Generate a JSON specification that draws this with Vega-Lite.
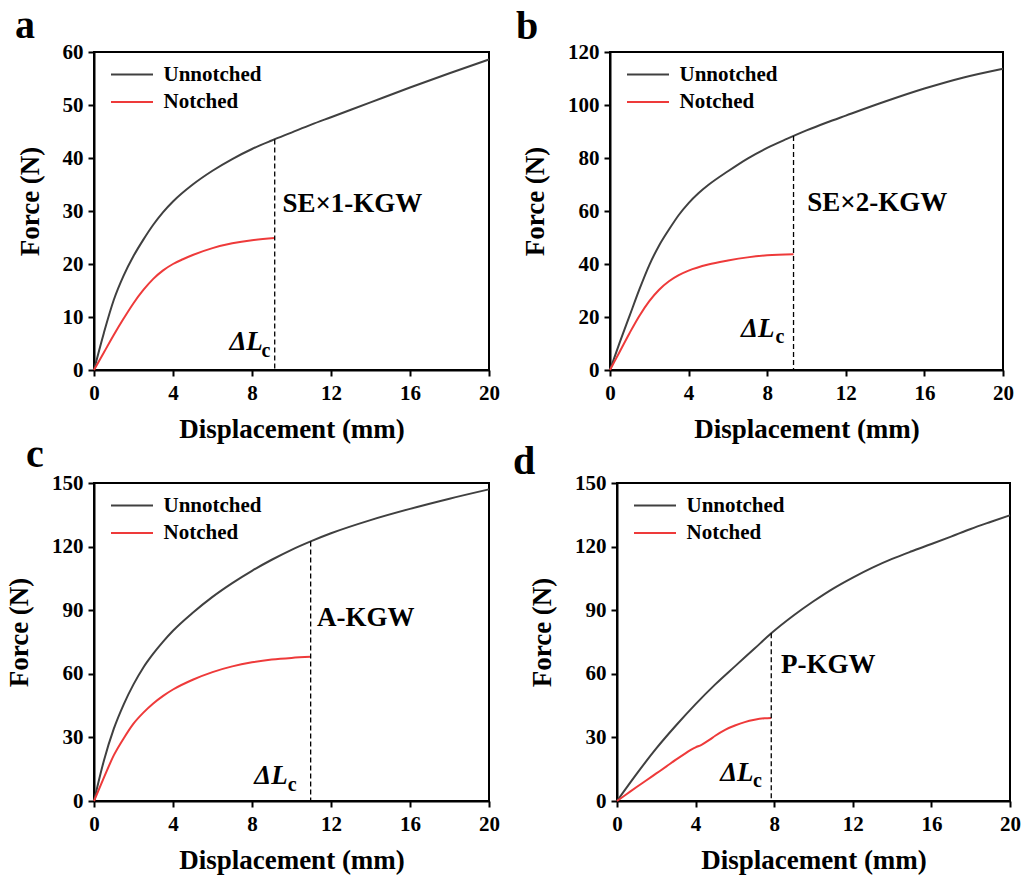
{
  "$schema": "https://vega.github.io/schema/vega-lite/v6.json",
  "background": "white",
  "padding": {"left": 4, "top": 4, "right": 5, "bottom": 5},
  "datasets": {
    "curves": [
      {"p":"a","s":"Unnotched","x":0,"y":0},{"p":"a","s":"Unnotched","x":0.5,"y":7},{"p":"a","s":"Unnotched","x":1,"y":13.2},{"p":"a","s":"Unnotched","x":1.5,"y":17.8},{"p":"a","s":"Unnotched","x":2,"y":21.5},{"p":"a","s":"Unnotched","x":2.5,"y":24.6},{"p":"a","s":"Unnotched","x":3,"y":27.4},{"p":"a","s":"Unnotched","x":3.5,"y":29.8},{"p":"a","s":"Unnotched","x":4,"y":31.8},{"p":"a","s":"Unnotched","x":5,"y":35},{"p":"a","s":"Unnotched","x":6,"y":37.6},{"p":"a","s":"Unnotched","x":7,"y":39.8},{"p":"a","s":"Unnotched","x":8,"y":41.7},{"p":"a","s":"Unnotched","x":9,"y":43.3},{"p":"a","s":"Unnotched","x":10,"y":44.8},{"p":"a","s":"Unnotched","x":11,"y":46.3},{"p":"a","s":"Unnotched","x":12,"y":47.7},{"p":"a","s":"Unnotched","x":14,"y":50.5},{"p":"a","s":"Unnotched","x":16,"y":53.3},{"p":"a","s":"Unnotched","x":18,"y":56},{"p":"a","s":"Unnotched","x":20,"y":58.6},
      {"p":"a","s":"Notched","x":0,"y":0},{"p":"a","s":"Notched","x":0.5,"y":3.3},{"p":"a","s":"Notched","x":1,"y":6.6},{"p":"a","s":"Notched","x":1.5,"y":9.7},{"p":"a","s":"Notched","x":2,"y":12.6},{"p":"a","s":"Notched","x":2.5,"y":15.1},{"p":"a","s":"Notched","x":3,"y":17.2},{"p":"a","s":"Notched","x":3.5,"y":18.8},{"p":"a","s":"Notched","x":4,"y":20},{"p":"a","s":"Notched","x":4.5,"y":20.9},{"p":"a","s":"Notched","x":5,"y":21.7},{"p":"a","s":"Notched","x":6,"y":23},{"p":"a","s":"Notched","x":7,"y":23.9},{"p":"a","s":"Notched","x":8,"y":24.5},{"p":"a","s":"Notched","x":9.15,"y":24.9},
      {"p":"b","s":"Unnotched","x":0,"y":0},{"p":"b","s":"Unnotched","x":0.5,"y":10.5},{"p":"b","s":"Unnotched","x":1,"y":20.5},{"p":"b","s":"Unnotched","x":1.5,"y":30.5},{"p":"b","s":"Unnotched","x":2,"y":39.6},{"p":"b","s":"Unnotched","x":2.5,"y":47},{"p":"b","s":"Unnotched","x":3,"y":53},{"p":"b","s":"Unnotched","x":3.5,"y":58.5},{"p":"b","s":"Unnotched","x":4,"y":63},{"p":"b","s":"Unnotched","x":4.5,"y":66.7},{"p":"b","s":"Unnotched","x":5,"y":69.8},{"p":"b","s":"Unnotched","x":6,"y":75},{"p":"b","s":"Unnotched","x":7,"y":79.8},{"p":"b","s":"Unnotched","x":8,"y":83.8},{"p":"b","s":"Unnotched","x":9,"y":87.2},{"p":"b","s":"Unnotched","x":10,"y":90.4},{"p":"b","s":"Unnotched","x":11,"y":93.3},{"p":"b","s":"Unnotched","x":12,"y":96},{"p":"b","s":"Unnotched","x":14,"y":101.3},{"p":"b","s":"Unnotched","x":16,"y":106.2},{"p":"b","s":"Unnotched","x":18,"y":110.4},{"p":"b","s":"Unnotched","x":20,"y":113.7},
      {"p":"b","s":"Notched","x":0,"y":0},{"p":"b","s":"Notched","x":0.5,"y":7},{"p":"b","s":"Notched","x":1,"y":14},{"p":"b","s":"Notched","x":1.5,"y":20.5},{"p":"b","s":"Notched","x":2,"y":26},{"p":"b","s":"Notched","x":2.5,"y":30.3},{"p":"b","s":"Notched","x":3,"y":33.5},{"p":"b","s":"Notched","x":3.5,"y":35.8},{"p":"b","s":"Notched","x":4,"y":37.5},{"p":"b","s":"Notched","x":5,"y":39.8},{"p":"b","s":"Notched","x":6,"y":41.3},{"p":"b","s":"Notched","x":7,"y":42.5},{"p":"b","s":"Notched","x":8,"y":43.3},{"p":"b","s":"Notched","x":9.34,"y":43.7},
      {"p":"c","s":"Unnotched","x":0,"y":0},{"p":"c","s":"Unnotched","x":0.5,"y":19},{"p":"c","s":"Unnotched","x":1,"y":34},{"p":"c","s":"Unnotched","x":1.5,"y":45.5},{"p":"c","s":"Unnotched","x":2,"y":55},{"p":"c","s":"Unnotched","x":2.5,"y":63},{"p":"c","s":"Unnotched","x":3,"y":69.5},{"p":"c","s":"Unnotched","x":3.5,"y":75.2},{"p":"c","s":"Unnotched","x":4,"y":80.3},{"p":"c","s":"Unnotched","x":5,"y":88.8},{"p":"c","s":"Unnotched","x":6,"y":96.3},{"p":"c","s":"Unnotched","x":7,"y":102.8},{"p":"c","s":"Unnotched","x":8,"y":108.6},{"p":"c","s":"Unnotched","x":9,"y":113.8},{"p":"c","s":"Unnotched","x":10,"y":118.5},{"p":"c","s":"Unnotched","x":11,"y":122.6},{"p":"c","s":"Unnotched","x":12,"y":126.3},{"p":"c","s":"Unnotched","x":14,"y":132.5},{"p":"c","s":"Unnotched","x":16,"y":137.8},{"p":"c","s":"Unnotched","x":18,"y":142.6},{"p":"c","s":"Unnotched","x":20,"y":147},
      {"p":"c","s":"Notched","x":0,"y":0},{"p":"c","s":"Notched","x":0.5,"y":11},{"p":"c","s":"Notched","x":1,"y":21.5},{"p":"c","s":"Notched","x":1.5,"y":29.5},{"p":"c","s":"Notched","x":2,"y":36.5},{"p":"c","s":"Notched","x":2.5,"y":41.7},{"p":"c","s":"Notched","x":3,"y":46},{"p":"c","s":"Notched","x":3.5,"y":49.6},{"p":"c","s":"Notched","x":4,"y":52.6},{"p":"c","s":"Notched","x":5,"y":57.2},{"p":"c","s":"Notched","x":6,"y":60.8},{"p":"c","s":"Notched","x":7,"y":63.5},{"p":"c","s":"Notched","x":8,"y":65.4},{"p":"c","s":"Notched","x":9,"y":66.7},{"p":"c","s":"Notched","x":10,"y":67.5},{"p":"c","s":"Notched","x":10.97,"y":68},
      {"p":"d","s":"Unnotched","x":0,"y":0},{"p":"d","s":"Unnotched","x":1,"y":12.8},{"p":"d","s":"Unnotched","x":2,"y":24.8},{"p":"d","s":"Unnotched","x":3,"y":35.6},{"p":"d","s":"Unnotched","x":4,"y":45.7},{"p":"d","s":"Unnotched","x":5,"y":55},{"p":"d","s":"Unnotched","x":6,"y":63.5},{"p":"d","s":"Unnotched","x":7,"y":71.9},{"p":"d","s":"Unnotched","x":7.85,"y":79.1},{"p":"d","s":"Unnotched","x":9,"y":87.6},{"p":"d","s":"Unnotched","x":10,"y":94.2},{"p":"d","s":"Unnotched","x":11,"y":100.2},{"p":"d","s":"Unnotched","x":12,"y":105.4},{"p":"d","s":"Unnotched","x":13,"y":110.1},{"p":"d","s":"Unnotched","x":14,"y":114.2},{"p":"d","s":"Unnotched","x":15,"y":117.8},{"p":"d","s":"Unnotched","x":16,"y":121.2},{"p":"d","s":"Unnotched","x":17,"y":124.7},{"p":"d","s":"Unnotched","x":18,"y":128.3},{"p":"d","s":"Unnotched","x":19,"y":131.6},{"p":"d","s":"Unnotched","x":20,"y":134.8},
      {"p":"d","s":"Notched","x":0,"y":0},{"p":"d","s":"Notched","x":0.5,"y":3.3},{"p":"d","s":"Notched","x":1,"y":6.6},{"p":"d","s":"Notched","x":1.5,"y":9.8},{"p":"d","s":"Notched","x":2,"y":13},{"p":"d","s":"Notched","x":2.5,"y":16.2},{"p":"d","s":"Notched","x":3,"y":19.5},{"p":"d","s":"Notched","x":3.5,"y":22.6},{"p":"d","s":"Notched","x":3.8,"y":24.4},{"p":"d","s":"Notched","x":4,"y":25.3},{"p":"d","s":"Notched","x":4.3,"y":26.5},{"p":"d","s":"Notched","x":4.7,"y":28.8},{"p":"d","s":"Notched","x":5,"y":30.8},{"p":"d","s":"Notched","x":5.5,"y":33.6},{"p":"d","s":"Notched","x":6,"y":35.6},{"p":"d","s":"Notched","x":6.5,"y":37.2},{"p":"d","s":"Notched","x":7,"y":38.3},{"p":"d","s":"Notched","x":7.5,"y":39},{"p":"d","s":"Notched","x":7.85,"y":39.2}
    ],
    "notes": [
      {"p":"a","xd":9.15,"y0":0,"ytop":43.5,"lbl":"SE×1-KGW","lx":9.54,"ly":31.4,"dl":"ΔL","dlx":8.55,"dly":3.77,"sub":"c","cx":8.93,"cy":2.52},
      {"p":"b","xd":9.34,"y0":0,"ytop":88.3,"lbl":"SE×2-KGW","lx":10.04,"ly":63.2,"dl":"ΔL","dlx":8.37,"dly":12.3,"sub":"c","cx":8.88,"cy":10.2},
      {"p":"c","xd":10.97,"y0":0,"ytop":122.4,"lbl":"A-KGW","lx":11.29,"ly":86.5,"dl":"ΔL","dlx":9.81,"dly":7.9,"sub":"c","cx":10.26,"cy":4.7},
      {"p":"d","xd":7.85,"y0":0,"ytop":79.1,"lbl":"P-KGW","lx":8.35,"ly":64.3,"dl":"ΔL","dlx":6.95,"dly":9.5,"sub":"c","cx":7.37,"cy":6.7}
    ]
  },
  "spacing": -10,
  "resolve": {"scale": {"color": "independent"}},
  "vconcat": [
    {
      "hconcat": [
        {
          "width": 395, "height": 318,
          "title": {"text": "a", "anchor": "start", "frame": "group", "offset": 0, "dx": -79, "dy": 36.5, "baseline": "alphabetic"},
          "layer": [
            {"data": {"name": "curves"}, "transform": [{"filter": "datum.p === 'a'"}],
             "mark": {"type": "line", "strokeWidth": 2, "interpolate": "monotone"},
             "encoding": {
               "x": {"field": "x", "type": "quantitative", "scale": {"domain": [0, 20], "nice": false},
                     "axis": {"title": "Displacement (mm)", "values": [0,2,4,6,8,10,12,14,16,18,20], "labelExpr": "datum.value % 4 === 0 ? datum.label : ''",
                              "tickDash": {"condition": {"test": "datum.value % 4 !== 0", "value": [4, 20]}, "value": [10, 0]}}},
               "y": {"field": "y", "type": "quantitative", "scale": {"domain": [0, 60], "nice": false},
                     "axis": {"title": "Force (N)", "values": [0,5,10,15,20,25,30,35,40,45,50,55,60], "labelExpr": "datum.value % 10 === 0 ? datum.label : ''",
                              "tickDash": {"condition": {"test": "datum.value % 10 !== 0", "value": [4, 20]}, "value": [10, 0]}}},
               "color": {"field": "s", "type": "nominal", "scale": {"domain": ["Unnotched", "Notched"], "range": ["#404040", "#ee3a3a"]},
                         "legend": {"orient": "none", "legendX": 17, "legendY": 12, "title": null}}
             }},
            {"data": {"name": "notes"}, "transform": [{"filter": "datum.p === 'a'"}],
             "mark": {"type": "rule", "color": "black", "strokeWidth": 1.3, "strokeDash": [5, 3]},
             "encoding": {"x": {"field": "xd", "type": "quantitative"}, "y": {"field": "ytop", "type": "quantitative"}, "y2": {"field": "y0"}}},
            {"data": {"name": "notes"}, "transform": [{"filter": "datum.p === 'a'"}],
             "mark": {"type": "text", "align": "left", "baseline": "middle", "font": "Liberation Serif", "fontWeight": "bold", "fontSize": 27, "color": "black"},
             "encoding": {"x": {"field": "lx", "type": "quantitative"}, "y": {"field": "ly", "type": "quantitative"}, "text": {"field": "lbl"}}},
            {"data": {"name": "notes"}, "transform": [{"filter": "datum.p === 'a'"}],
             "mark": {"type": "text", "align": "right", "baseline": "alphabetic", "font": "Liberation Serif", "fontWeight": "bold", "fontStyle": "italic", "fontSize": 27, "color": "black"},
             "encoding": {"x": {"field": "dlx", "type": "quantitative"}, "y": {"field": "dly", "type": "quantitative"}, "text": {"field": "dl"}}},
            {"data": {"name": "notes"}, "transform": [{"filter": "datum.p === 'a'"}],
             "mark": {"type": "text", "align": "right", "baseline": "alphabetic", "font": "Liberation Serif", "fontWeight": "bold", "fontSize": 20, "color": "black"},
             "encoding": {"x": {"field": "cx", "type": "quantitative"}, "y": {"field": "cy", "type": "quantitative"}, "text": {"field": "sub"}}}
          ]
        },
        {
          "width": 393, "height": 318,
          "title": {"text": "b", "anchor": "start", "frame": "group", "offset": 0, "dx": -94, "dy": 37.5, "baseline": "alphabetic"},
          "layer": [
            {"data": {"name": "curves"}, "transform": [{"filter": "datum.p === 'b'"}],
             "mark": {"type": "line", "strokeWidth": 2, "interpolate": "monotone"},
             "encoding": {
               "x": {"field": "x", "type": "quantitative", "scale": {"domain": [0, 20], "nice": false},
                     "axis": {"title": "Displacement (mm)", "values": [0,2,4,6,8,10,12,14,16,18,20], "labelExpr": "datum.value % 4 === 0 ? datum.label : ''",
                              "tickDash": {"condition": {"test": "datum.value % 4 !== 0", "value": [4, 20]}, "value": [10, 0]}}},
               "y": {"field": "y", "type": "quantitative", "scale": {"domain": [0, 120], "nice": false},
                     "axis": {"title": "Force (N)", "values": [0,10,20,30,40,50,60,70,80,90,100,110,120], "labelExpr": "datum.value % 20 === 0 ? datum.label : ''",
                              "tickDash": {"condition": {"test": "datum.value % 20 !== 0", "value": [4, 20]}, "value": [10, 0]}}},
               "color": {"field": "s", "type": "nominal", "scale": {"domain": ["Unnotched", "Notched"], "range": ["#404040", "#ee3a3a"]},
                         "legend": {"orient": "none", "legendX": 17, "legendY": 12, "title": null}}
             }},
            {"data": {"name": "notes"}, "transform": [{"filter": "datum.p === 'b'"}],
             "mark": {"type": "rule", "color": "black", "strokeWidth": 1.3, "strokeDash": [5, 3]},
             "encoding": {"x": {"field": "xd", "type": "quantitative"}, "y": {"field": "ytop", "type": "quantitative"}, "y2": {"field": "y0"}}},
            {"data": {"name": "notes"}, "transform": [{"filter": "datum.p === 'b'"}],
             "mark": {"type": "text", "align": "left", "baseline": "middle", "font": "Liberation Serif", "fontWeight": "bold", "fontSize": 27, "color": "black"},
             "encoding": {"x": {"field": "lx", "type": "quantitative"}, "y": {"field": "ly", "type": "quantitative"}, "text": {"field": "lbl"}}},
            {"data": {"name": "notes"}, "transform": [{"filter": "datum.p === 'b'"}],
             "mark": {"type": "text", "align": "right", "baseline": "alphabetic", "font": "Liberation Serif", "fontWeight": "bold", "fontStyle": "italic", "fontSize": 27, "color": "black"},
             "encoding": {"x": {"field": "dlx", "type": "quantitative"}, "y": {"field": "dly", "type": "quantitative"}, "text": {"field": "dl"}}},
            {"data": {"name": "notes"}, "transform": [{"filter": "datum.p === 'b'"}],
             "mark": {"type": "text", "align": "right", "baseline": "alphabetic", "font": "Liberation Serif", "fontWeight": "bold", "fontSize": 20, "color": "black"},
             "encoding": {"x": {"field": "cx", "type": "quantitative"}, "y": {"field": "cy", "type": "quantitative"}, "text": {"field": "sub"}}}
          ]
        }
      ],
      "bounds": "flush",
      "spacing": 121,
      "resolve": {"scale": {"color": "independent"}}
    },
    {
      "hconcat": [
        {
          "width": 395, "height": 318,
          "title": {"text": "c", "anchor": "start", "frame": "group", "offset": 0, "dx": -68, "dy": 34.5, "baseline": "alphabetic"},
          "layer": [
            {"data": {"name": "curves"}, "transform": [{"filter": "datum.p === 'c'"}],
             "mark": {"type": "line", "strokeWidth": 2, "interpolate": "monotone"},
             "encoding": {
               "x": {"field": "x", "type": "quantitative", "scale": {"domain": [0, 20], "nice": false},
                     "axis": {"title": "Displacement (mm)", "values": [0,2,4,6,8,10,12,14,16,18,20], "labelExpr": "datum.value % 4 === 0 ? datum.label : ''",
                              "tickDash": {"condition": {"test": "datum.value % 4 !== 0", "value": [4, 20]}, "value": [10, 0]}}},
               "y": {"field": "y", "type": "quantitative", "scale": {"domain": [0, 150], "nice": false},
                     "axis": {"title": "Force (N)", "values": [0,15,30,45,60,75,90,105,120,135,150], "labelExpr": "datum.value % 30 === 0 ? datum.label : ''",
                              "tickDash": {"condition": {"test": "datum.value % 30 !== 0", "value": [4, 20]}, "value": [10, 0]}}},
               "color": {"field": "s", "type": "nominal", "scale": {"domain": ["Unnotched", "Notched"], "range": ["#404040", "#ee3a3a"]},
                         "legend": {"orient": "none", "legendX": 17, "legendY": 12, "title": null}}
             }},
            {"data": {"name": "notes"}, "transform": [{"filter": "datum.p === 'c'"}],
             "mark": {"type": "rule", "color": "black", "strokeWidth": 1.3, "strokeDash": [5, 3]},
             "encoding": {"x": {"field": "xd", "type": "quantitative"}, "y": {"field": "ytop", "type": "quantitative"}, "y2": {"field": "y0"}}},
            {"data": {"name": "notes"}, "transform": [{"filter": "datum.p === 'c'"}],
             "mark": {"type": "text", "align": "left", "baseline": "middle", "font": "Liberation Serif", "fontWeight": "bold", "fontSize": 27, "color": "black"},
             "encoding": {"x": {"field": "lx", "type": "quantitative"}, "y": {"field": "ly", "type": "quantitative"}, "text": {"field": "lbl"}}},
            {"data": {"name": "notes"}, "transform": [{"filter": "datum.p === 'c'"}],
             "mark": {"type": "text", "align": "right", "baseline": "alphabetic", "font": "Liberation Serif", "fontWeight": "bold", "fontStyle": "italic", "fontSize": 27, "color": "black"},
             "encoding": {"x": {"field": "dlx", "type": "quantitative"}, "y": {"field": "dly", "type": "quantitative"}, "text": {"field": "dl"}}},
            {"data": {"name": "notes"}, "transform": [{"filter": "datum.p === 'c'"}],
             "mark": {"type": "text", "align": "right", "baseline": "alphabetic", "font": "Liberation Serif", "fontWeight": "bold", "fontSize": 20, "color": "black"},
             "encoding": {"x": {"field": "cx", "type": "quantitative"}, "y": {"field": "cy", "type": "quantitative"}, "text": {"field": "sub"}}}
          ]
        },
        {
          "width": 393, "height": 318,
          "title": {"text": "d", "anchor": "start", "frame": "group", "offset": 0, "dx": -104, "dy": 41.5, "baseline": "alphabetic"},
          "layer": [
            {"data": {"name": "curves"}, "transform": [{"filter": "datum.p === 'd'"}],
             "mark": {"type": "line", "strokeWidth": 2, "interpolate": "monotone"},
             "encoding": {
               "x": {"field": "x", "type": "quantitative", "scale": {"domain": [0, 20], "nice": false},
                     "axis": {"title": "Displacement (mm)", "values": [0,2,4,6,8,10,12,14,16,18,20], "labelExpr": "datum.value % 4 === 0 ? datum.label : ''",
                              "tickDash": {"condition": {"test": "datum.value % 4 !== 0", "value": [4, 20]}, "value": [10, 0]}}},
               "y": {"field": "y", "type": "quantitative", "scale": {"domain": [0, 150], "nice": false},
                     "axis": {"title": "Force (N)", "values": [0,15,30,45,60,75,90,105,120,135,150], "labelExpr": "datum.value % 30 === 0 ? datum.label : ''",
                              "tickDash": {"condition": {"test": "datum.value % 30 !== 0", "value": [4, 20]}, "value": [10, 0]}}},
               "color": {"field": "s", "type": "nominal", "scale": {"domain": ["Unnotched", "Notched"], "range": ["#404040", "#ee3a3a"]},
                         "legend": {"orient": "none", "legendX": 17, "legendY": 12, "title": null}}
             }},
            {"data": {"name": "notes"}, "transform": [{"filter": "datum.p === 'd'"}],
             "mark": {"type": "rule", "color": "black", "strokeWidth": 1.3, "strokeDash": [5, 3]},
             "encoding": {"x": {"field": "xd", "type": "quantitative"}, "y": {"field": "ytop", "type": "quantitative"}, "y2": {"field": "y0"}}},
            {"data": {"name": "notes"}, "transform": [{"filter": "datum.p === 'd'"}],
             "mark": {"type": "text", "align": "left", "baseline": "middle", "font": "Liberation Serif", "fontWeight": "bold", "fontSize": 27, "color": "black"},
             "encoding": {"x": {"field": "lx", "type": "quantitative"}, "y": {"field": "ly", "type": "quantitative"}, "text": {"field": "lbl"}}},
            {"data": {"name": "notes"}, "transform": [{"filter": "datum.p === 'd'"}],
             "mark": {"type": "text", "align": "right", "baseline": "alphabetic", "font": "Liberation Serif", "fontWeight": "bold", "fontStyle": "italic", "fontSize": 27, "color": "black"},
             "encoding": {"x": {"field": "dlx", "type": "quantitative"}, "y": {"field": "dly", "type": "quantitative"}, "text": {"field": "dl"}}},
            {"data": {"name": "notes"}, "transform": [{"filter": "datum.p === 'd'"}],
             "mark": {"type": "text", "align": "right", "baseline": "alphabetic", "font": "Liberation Serif", "fontWeight": "bold", "fontSize": 20, "color": "black"},
             "encoding": {"x": {"field": "cx", "type": "quantitative"}, "y": {"field": "cy", "type": "quantitative"}, "text": {"field": "sub"}}}
          ]
        }
      ],
      "bounds": "flush",
      "spacing": 128,
      "resolve": {"scale": {"color": "independent"}}
    }
  ],
  "config": {
    "font": "Liberation Serif",
    "view": {"stroke": "black", "strokeWidth": 2},
    "title": {"font": "Liberation Serif", "fontSize": 40, "fontWeight": "bold", "color": "black"},
    "axis": {
      "grid": false,
      "labelFont": "Liberation Serif", "labelFontSize": 21, "labelFontWeight": "bold", "labelColor": "black",
      "titleFont": "Liberation Serif", "titleFontSize": 27, "titleFontWeight": "bold", "titleColor": "black",
      "domainColor": "black", "domainWidth": 2, "tickColor": "black", "tickWidth": 2, "tickSize": 6,
      "labelFlush": false, "labelOverlap": false
    },
    "axisX": {"labelPadding": 6, "titlePadding": 13},
    "axisY": {"labelPadding": 5, "titlePadding": 18, "titleY": 149},
    "legend": {
      "padding": 0, "symbolType": "M-4.2,0H4.2", "symbolSize": 100, "symbolStrokeWidth": 2, "symbolOffset": 10.5,
      "labelFont": "Liberation Serif", "labelFontSize": 21, "labelFontWeight": "bold", "labelColor": "black",
      "labelOffset": 21, "rowPadding": 5.5
    }
  }
}
